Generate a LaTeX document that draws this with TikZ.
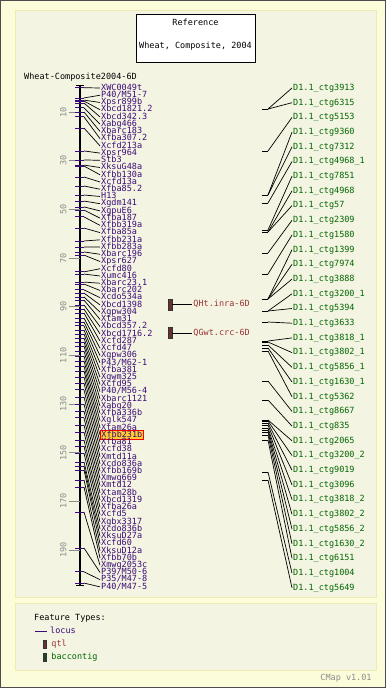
\documentclass[tikz,border=0pt]{standalone}
\usepackage{fontspec}
\newfontfamily\pixfont{DejaVu Sans Mono}
\usetikzlibrary{positioning}

\definecolor{pagebg}{HTML}{FCFCDA}
\definecolor{panelbg}{HTML}{F4F4E2}
\definecolor{panelrim}{HTML}{ECECB2}
\definecolor{locuscol}{HTML}{3A0A78}
\definecolor{baccol}{HTML}{006600}
\definecolor{qtlcol}{HTML}{993333}
\definecolor{qtlfill}{HTML}{6B3030}
\definecolor{bacfill}{HTML}{1E4A1E}
\definecolor{hlfill}{HTML}{FFCC33}

\begin{document}
\begin{tikzpicture}[
  x=1pt, y=-1pt,
  every node/.style={font=\pixfont\fontsize{8.5}{9}\selectfont, inner sep=0pt,
    text height=6.3pt, text depth=1.7pt},
  locus/.style={anchor=west, text=locuscol, inner xsep=1pt},
  hilite/.style={locus, fill=hlfill, draw=red, line width=0.8pt, inner ysep=0.6pt},
  bac/.style={anchor=west, text=baccol, inner xsep=1pt},
  qtlbar/.style={draw=black!80, fill=qtlfill, line width=0.5pt, minimum width=4pt, minimum height=11pt},
  qtllbl/.style={anchor=west, text=qtlcol, inner xsep=1pt},
  lnk/.style={black, line width=0.7pt},
  tick/.style={locuscol, line width=0.8pt},
  scaleln/.style={black!45, line width=0.7pt},
  scalenum/.style={text=black!45, rotate=90}
]
% page and panels
\useasboundingbox (0,0) rectangle (386,688);
\fill[pagebg] (0,0) rectangle (386,688);
\draw[black!70, line width=1pt] (0.5,0.5) rectangle (385.5,687.5);
\draw[panelrim, fill=panelbg, line width=1pt] (15,10) rectangle (376,597);
\draw[panelrim, fill=panelbg, line width=1pt] (15,603) rectangle (376,670);

% title box
\draw[fill=white, line width=0.8pt] (136,14) rectangle (255,62);
\node (reftitle) at (195.5,23) {Reference};
\node (refset) at (195.5,46) {Wheat, Composite, 2004};
\node[anchor=west] (mapname) at (24,77) {Wheat-Composite2004-6D};

% map axis and scale
\draw[line width=2pt] (80,85) -- (80,585);
\draw[line width=1pt] (76,85) -- (84,85);
\draw[line width=1pt] (76,585) -- (84,585);
\foreach \s in {10,30,...,190} {
  \draw[scaleln] (69,{87.7+2.433*\s}) -- (80,{87.7+2.433*\s});
  \node[scalenum] (sc\s) at (64,{87.7+2.433*\s}) {\s};
}

% loci
\foreach \nm/\cm [count=\i] in {
  XWC0049t/0, {P40/M51-7}/4.2, Xpsr899b/5.1, Xbcd1821.2/5.5, Xbcd342.3/6.3,
  Xabg466/8.3, Xbarc183/10.0, Xfba307.2/12.0, Xcfd213a/16.6, Xpsr964/26.0,
  Stb3/29.7, XksuG48a/31.8, Xfbb130a/32.2, Xcfd13a/36.7, Xfba85.2/40.4,
  H13/44.1, Xgdm141/46.6, XgpuE6/49.0, Xfba187/50.3, Xfbb319a/53.1,
  Xfba85a/57.7, Xfbb231a/63.0, Xfbb283a/65.5, Xbarc196/67.5, Xpsr627/68.8,
  Xcfd80/75.7, Xumc416/76.6, Xbarc23.1/79.9, Xbarc202/80.7, Xcdo534a/83.1,
  Xbcd1398/84.4, Xgpw304/86.0, Xtam31/87.3, Xbcd357.2/89.3, Xbcd1716.2/91.0,
  Xcfd287/92.6, Xcfd47/94.7, Xgpw306/96.3, {P43/M62-1}/97.9, Xfba381/99.6,
  Xgwm325/101.2, Xcfd95/102.9, {P40/M56-4}/104.5, Xbarc1121/106.2, Xabg20/108.2,
  Xfba336b/110.3, Xglk547/112.3, Xtam26a/114.4, Xfbb231b/116.4, Xfba81/118.9,
  Xcfd38/121.4, Xmtd11a/124.2, Xcdo836a/127.1, Xfbb169b/130.0, Xmwg669/132.9,
  Xmtd12/135.7, Xtam28b/138.6, Xbcd1319/141.5, Xfba26a/144.8, Xcfd5/147.3,
  Xgbx3317/150.2, Xcdo836b/153.8, XksuD27a/155.5, Xcfd60/157.1, XksuD12a/161.2,
  Xfbb70b/164.1, Xmwg2053c/174.4, {P39/M50-6}/189.2, {P35/M47-8}/199.0, {P40/M47-5}/203.6} {
  \coordinate (t\i) at (84,{87.7+2.433*\cm});
  \draw[tick] (75,{87.7+2.433*\cm}) -- (t\i);
  \ifnum\i=49 \tikzset{lab/.style={hilite}}\else\tikzset{lab/.style={locus}}\fi
  \node[lab] (L\i) at (100,{88+7.23*(\i-1)}) {\nm};
  \draw[lnk] (t\i) -- (L\i.west);
}

% qtls
\node[qtlbar] (q1) at (170,304.5) {};
\node[qtllbl, right=20pt of q1] (q1l) {QHt.inra-6D};
\draw[lnk] (q1) -- (q1l);
\node[qtlbar] (q2) at (170,333) {};
\node[qtllbl, right=20pt of q2] (q2l) {QGwt.crc-6D};
\draw[lnk] (q2) -- (q2l);

% bac contigs
\foreach \ct/\ty [count=\j] in {
  3913/109, 6315/109, 5153/151, 9360/195, 7312/195, 4968\_1/203, 7851/230,
  4968/232, 57/232, 2309/253, 1580/274, 1399/299, 7974/299, 3888/299,
  3200\_1/311, 5394/311, 3633/322, 3818\_1/341, 3802\_1/342, 5856\_1/345,
  1630\_1/348, 5362/351, 8667/381, 835/400, 2065/420, 3200\_2/421, 9019/423,
  3096/425, 3818\_2/428, 3802\_2/430, 5856\_2/432, 1630\_2/435, 6151/440,
  1004/472, 5649/480} {
  \coordinate (b\j) at (268,\ty);
  \draw[lnk] (262,\ty) -- (b\j);
  \node[bac] (R\j) at (292,{88+14.7*(\j-1)}) {D1.1\_ctg\ct};
  \draw[lnk] (b\j) -- (R\j.west);
}

% legend
\node[anchor=west] (ftypes) at (34,618) {Feature Types:};
\coordinate (lg0) at (35,631);
\coordinate (lg1) at (47,631);
\draw[tick] (lg0) -- (lg1);
\node[locus, right=2pt of lg1] (lglocus) {locus};
\node[qtlbar, minimum width=3pt, minimum height=8pt] (lgq) at (44.5,644) {};
\node[qtllbl, right=4pt of lgq] (lgqtl) {qtl};
\node[qtlbar, fill=bacfill, minimum width=3pt, minimum height=8pt] (lgb) at (44.5,657) {};
\node[bac, right=4pt of lgb] (lgbac) {baccontig};
\node[text=black!45] (ver) at (346,678) {CMap v1.01};
\end{tikzpicture}
\end{document}
